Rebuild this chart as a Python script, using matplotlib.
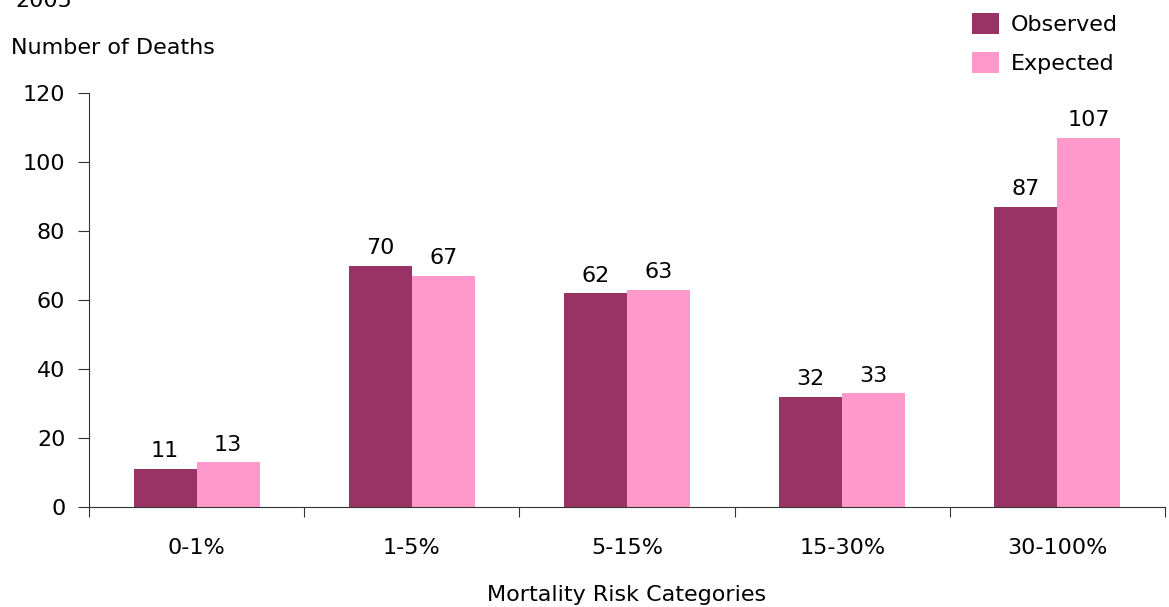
import numpy as np
import matplotlib.pyplot as plt

# Mortality risk categories and death counts
categories = ['0-1%', '1-5%', '5-15%', '15-30%', '30-100%']
observed = [11, 70, 62, 32, 87]
expected = [13, 67, 63, 33, 107]

obs_color = '#993366'
exp_color = '#FF99CC'

plt.rcParams['font.family'] = ['Verdana', 'DejaVu Sans']
plt.rcParams['font.size'] = 16

fig = plt.figure(figsize=(11.69, 6.07), dpi=100)
ax = fig.add_axes([0.0761, 0.1647, 0.9205, 0.6821])

x = np.arange(len(categories))
w = 0.293
b1 = ax.bar(x - w/2, observed, w, color=obs_color, label='Observed')
b2 = ax.bar(x + w/2, expected, w, color=exp_color, label='Expected')

# value labels above each bar
for bars, vals in [(b1, observed), (b2, expected)]:
    for bar, v in zip(bars, vals):
        ax.text(bar.get_x() + bar.get_width()/2, v + 2.2, str(v),
                ha='center', va='bottom', fontsize=16)

ax.set_xlim(-0.5, len(categories) - 0.5)
ax.set_ylim(0, 120)
ax.set_yticks(range(0, 121, 20))

# category boundaries carry the x ticks, labels sit in between
ax.set_xticks(np.arange(-0.5, len(categories), 1.0))
ax.set_xticklabels([])
ax.set_xticks(x, minor=True)
ax.set_xticklabels(categories, minor=True)
ax.tick_params(axis='x', which='minor', length=0, pad=22)
ax.tick_params(axis='x', which='major', length=7, direction='out', color='#333333')
ax.tick_params(axis='y', length=8, direction='out', pad=9, color='#333333')

for side in ['top', 'right']:
    ax.spines[side].set_visible(False)
for side in ['left', 'bottom']:
    ax.spines[side].set_color('#333333')

ax.set_xlabel('Mortality Risk Categories', labelpad=20)

fig.text(0.009, 1.0 - 48/607, 'Number of Deaths', ha='left', va='center')
fig.text(0.013, 1.0 - 1/607, '2005', ha='left', va='center')

ax.legend(loc='upper left', bbox_to_anchor=(0.812, 1.215), frameon=False,
          handlelength=1.25, handleheight=1.1, handletextpad=0.5,
          labelspacing=0.75, fontsize=16, borderaxespad=0)

plt.savefig('out.png', dpi=100)
